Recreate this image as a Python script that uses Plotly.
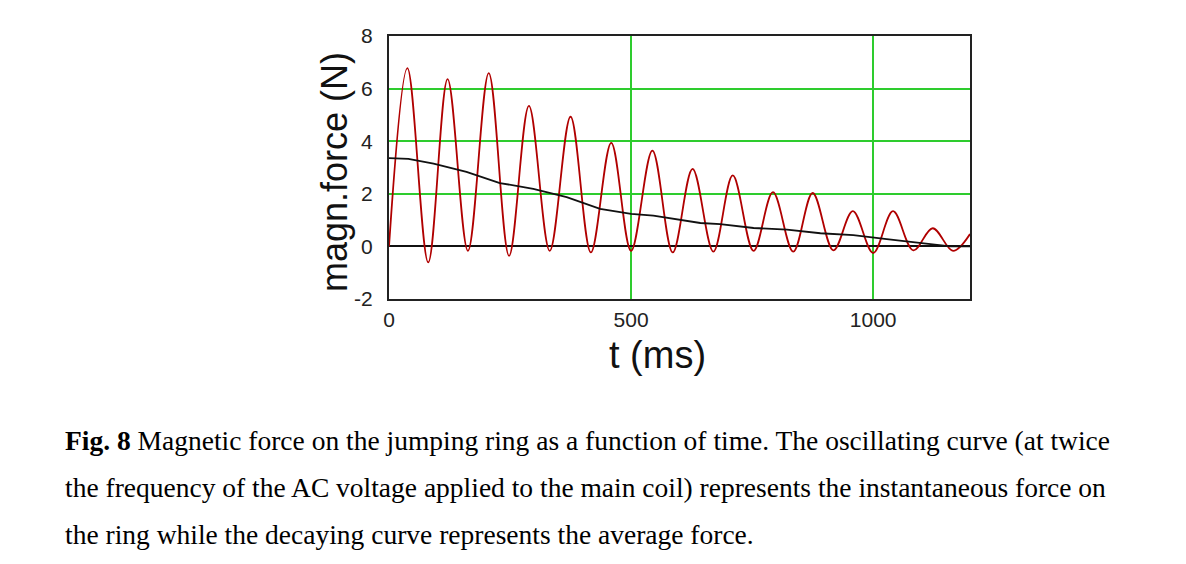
import plotly.graph_objects as go

# ---- data ----
# instantaneous force: extrema of the oscillating curve (t in ms, force in N)
t_osc = [0, 38, 81, 121, 163, 206, 248, 289, 332, 375, 417, 459, 500, 544, 586,
         627, 670, 710, 753, 793, 835, 875, 918, 958, 1000, 1041, 1083, 1123, 1165, 1200]
f_osc = [0.0, 6.78, -0.61, 6.36, -0.17, 6.59, -0.36, 5.34, -0.17, 4.93, -0.23, 3.94, -0.17, 3.64, -0.23,
         2.95, -0.2, 2.70, -0.17, 2.06, -0.2, 2.03, -0.15, 1.34, -0.25, 1.34, -0.15, 0.69, -0.17, 0.47]

# average force (decaying curve)
t_avg = [0, 40, 92, 160, 229, 298, 367, 436, 500, 546, 643, 684, 753, 822, 891,
         959, 1028, 1097, 1132, 1160, 1200]
f_avg = [3.36, 3.33, 3.15, 2.83, 2.41, 2.19, 1.87, 1.43, 1.24, 1.17, 0.89, 0.85, 0.70, 0.64, 0.50,
         0.43, 0.28, 0.15, 0.06, 0.0, 0.0]

x_ticks = [0, 500, 1000]
y_ticks = [-2, 0, 2, 4, 6, 8]

caption_lines = [
    "<b>Fig. 8</b> Magnetic force on the jumping ring as a function of time. The oscillating curve (at twice",
    "the frequency of the AC voltage applied to the main coil) represents the instantaneous force on",
    "the ring while the decaying curve represents the average force.",
]

W, H = 1186, 564
L, R, T, B = 389, 970, 36, 299


def px_x(px):
    return (px - L) / (R - L)


def px_y(py):
    return (B - py) / (B - T)


fig = go.Figure()
fig.add_trace(go.Scatter(x=t_osc, y=f_osc, mode="lines",
                         line=dict(color="#b00000", width=1.8, shape="spline", smoothing=1.0),
                         hoverinfo="skip", showlegend=False))
fig.add_trace(go.Scatter(x=t_avg, y=f_avg, mode="lines",
                         line=dict(color="#111111", width=1.8),
                         hoverinfo="skip", showlegend=False))

tick_font = dict(family="Liberation Sans", size=21, color="#222222")
fig.update_xaxes(range=[0, 1200], tickvals=x_ticks, ticktext=[str(v) for v in x_ticks],
                 showgrid=True, gridcolor="#2ecc2e", gridwidth=1.5,
                 zeroline=False, showline=True, linecolor="#222222", linewidth=2, mirror=True,
                 ticks="", ticklabelstandoff=1, tickfont=tick_font)
fig.update_yaxes(range=[-2, 8], tickvals=y_ticks, ticktext=[str(v) for v in y_ticks],
                 showgrid=True, gridcolor="#2ecc2e", gridwidth=1.5,
                 zeroline=True, zerolinecolor="#111111", zerolinewidth=1.8,
                 showline=True, linecolor="#222222", linewidth=2, mirror=True,
                 ticks="", ticklabelstandoff=10, tickfont=tick_font)

annotations = [
    dict(text="t (ms)", x=px_x(657), y=px_y(355), xref="paper", yref="paper",
         showarrow=False, font=dict(family="Liberation Sans", size=38, color="#111111"),
         xanchor="center", yanchor="middle"),
    dict(text="magn.force (N)", x=px_x(334), y=px_y(172), xref="paper", yref="paper",
         showarrow=False, textangle=-90, font=dict(family="Liberation Sans", size=36, color="#111111"),
         xanchor="center", yanchor="middle"),
]
for i, line in enumerate(caption_lines):
    annotations.append(dict(text=line, x=px_x(63), y=px_y(440 + 47 * i), xref="paper", yref="paper",
                            showarrow=False, xanchor="left", yanchor="middle", align="left",
                            font=dict(family="Liberation Serif", size=27.5, color="#000000")))

fig.update_layout(width=W, height=H, margin=dict(l=L, r=W - R, t=T, b=H - B),
                  paper_bgcolor="white", plot_bgcolor="white", annotations=annotations)

fig.write_html("out.html", config={"displayModeBar": False},
               post_script="document.body.style.margin='0';")
